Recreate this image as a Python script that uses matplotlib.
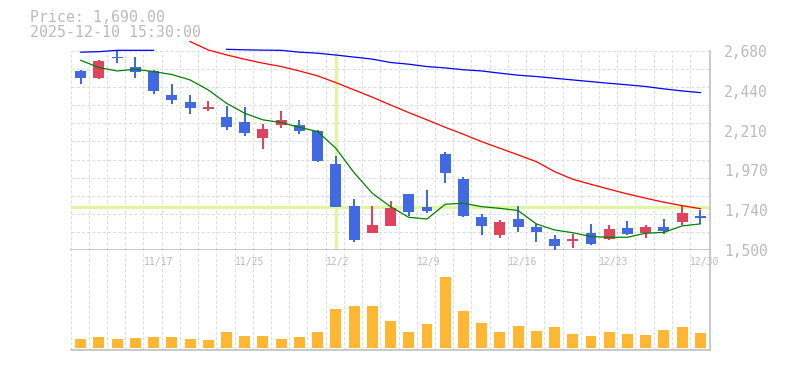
import numpy as np
import matplotlib
matplotlib.use('Agg')
import matplotlib.pyplot as plt

# 日足データ (チャートから読み取り)
dates = ['11/11', '11/12', '11/13', '11/14', '11/17', '11/18', '11/19', '11/20', '11/21',
         '11/25', '11/26', '11/27', '11/28', '12/1', '12/2', '12/3', '12/4', '12/5', '12/8',
         '12/9', '12/10', '12/11', '12/12', '12/15', '12/16', '12/17', '12/18', '12/19',
         '12/22', '12/23', '12/24', '12/25', '12/26', '12/29', '12/30']
opens = [2560, 2521, 2643, 2584, 2560, 2418, 2377, 2336, 2288, 2259, 2166, 2243, 2241, 2206,
         2010, 1762, 1601, 1646, 1833, 1756, 2070, 1922, 1697, 1593, 1685, 1638, 1565, 1557,
         1602, 1569, 1632, 1604, 1638, 1669, 1703]
highs = [2566, 2625, 2680, 2645, 2566, 2481, 2418, 2383, 2353, 2347, 2249, 2324, 2271, 2211,
         2058, 1803, 1762, 1792, 1833, 1857, 2083, 1934, 1715, 1679, 1762, 1656, 1589, 1597,
         1656, 1650, 1673, 1650, 1685, 1768, 1738]
lows = [2485, 2515, 2609, 2521, 2426, 2365, 2308, 2324, 2213, 2178, 2099, 2223, 2190, 2024,
        1758, 1551, 1601, 1646, 1705, 1721, 1900, 1699, 1593, 1575, 1610, 1551, 1500, 1516,
        1534, 1561, 1591, 1575, 1599, 1650, 1658]
closes = [2521, 2619, 2635, 2554, 2442, 2389, 2343, 2347, 2231, 2196, 2217, 2271, 2207, 2028,
          1758, 1561, 1650, 1750, 1729, 1733, 1959, 1703, 1646, 1668, 1640, 1610, 1528, 1565,
          1539, 1626, 1599, 1638, 1614, 1721, 1690]
volumes = [180, 220, 180, 200, 220, 220, 180, 160, 320, 240, 240, 180, 220, 320, 780, 840,
           840, 540, 320, 480, 1420, 740, 500, 320, 440, 340, 420, 280, 240, 320, 280, 260,
           360, 420, 300]

# 移動平均 (5日 / 25日 / 75日)
ma5 = [2623, 2580, 2560, 2570, 2556, 2539, 2507, 2448, 2369, 2310, 2271, 2255, 2227, 2202,
       2103, 1959, 1837, 1758, 1695, 1685, 1772, 1778, 1758, 1748, 1735, 1656, 1620, 1604,
       1581, 1577, 1577, 1601, 1606, 1644, 1656]
ma25 = [np.nan] * 6 + [2734, 2684, 2655, 2629, 2606, 2586, 2560, 2531, 2491, 2448, 2405, 2359,
                       2314, 2271, 2227, 2186, 2142, 2103, 2064, 2024, 1965, 1920, 1890, 1861,
                       1833, 1808, 1784, 1764, 1746]
ma75 = [2671, 2674, 2682, 2682, 2682, np.nan, np.nan, np.nan, 2688, 2685, 2683, 2682, 2671,
        2665, 2654, 2642, 2630, 2610, 2600, 2586, 2578, 2567, 2560, 2547, 2535, 2527, 2517,
        2507, 2497, 2487, 2478, 2468, 2454, 2442, 2432]

tick_values = np.linspace(1500, 2680, 6)
tick_labels = ['1,500', '1,740', '1,970', '2,210', '2,440', '2,680']
label_idx = [4, 9, 14, 19, 24, 29, 34]
cross_idx = 14

grey = '#bbbbbb'
grid_c = '#dddddd'
up_c = '#e0435e'
down_c = '#4169e1'
cross_c = '#e0f5a0'
mono = 'DejaVu Sans Mono'

x = np.arange(len(dates))
o = np.array(opens)
c = np.array(closes)
colors = [up_c if cc >= oo else down_c for oo, cc in zip(o, c)]

fig = plt.figure(figsize=(7.85, 3.7), dpi=100)
ax = fig.add_axes([70.5 / 785, 0.3235, 639.5 / 785, 0.5684])
ax2 = fig.add_axes([70.5 / 785, 20 / 370, 639.5 / 785, 99.7 / 370])

xlo, xhi = -0.56, 34.53
ax.set_xlim(xlo, xhi)
ax.set_ylim(1500, 2743)
ax2.set_xlim(xlo, xhi)
ax2.set_ylim(-46, 1948)

# グリッド
gx = x + xlo
ax.vlines(gx, 1500, 2680, color=grid_c, lw=0.75, linestyles=(0, (3, 2)), zorder=0)
ax.hlines(np.linspace(1500, 2680, 12), xlo, xhi, color=grid_c, lw=0.75,
          linestyles=(0, (3, 2)), zorder=0)
for g in gx:
    ax2.axvline(g, color=grid_c, lw=0.75, ls=(0, (3, 2)), zorder=0)

# クロスヘア
ax.vlines(x[cross_idx], 1500, 2680, color=cross_c, lw=2.3, zorder=1)
ax.axhline(closes[cross_idx], color=cross_c, lw=2.3, zorder=1)

# ローソク足
ax.vlines(x, lows, highs, color=colors, lw=1.4, zorder=3, antialiased=False)
ax.bar(x, np.abs(c - o), bottom=np.minimum(o, c), width=0.6, color=colors, lw=0, zorder=3)

ax.plot(x, ma5, color='green', lw=0.9, zorder=4)
ax.plot(x, ma25, color='red', lw=0.9, zorder=4)
ax.plot(x, ma75, color='blue', lw=0.9, zorder=4)

# 出来高
ax2.bar(x, volumes, width=0.6, color='#ffb733', lw=0, zorder=2)

for a in (ax, ax2):
    a.spines['top'].set_visible(False)
    a.spines['left'].set_visible(False)
    a.spines['right'].set_color(grey)
    a.spines['bottom'].set_color(grey)
    a.spines['right'].set_linewidth(1.1)
    a.spines['bottom'].set_linewidth(1.1)
    a.set_xticks([])
ax.spines['right'].set_bounds(1500, 2680)
ax2.set_yticks([])

ax.yaxis.tick_right()
ax.set_yticks(tick_values)
ax.set_yticklabels(tick_labels, fontfamily=mono, fontsize=10.5, color=grey)
ax.tick_params(axis='y', length=0, pad=10)
for t in ax.get_yticklabels():
    t.set_verticalalignment('center_baseline')

for i in label_idx:
    ax2.text(x[i] + xlo, 0.878, dates[i], transform=ax2.get_xaxis_transform(),
             ha='left', va='center', fontfamily=mono, fontsize=7, color=grey, clip_on=False)

fig.text(30 / 785, 1 - 17.5 / 370, 'Price: 1,690.00', fontfamily=mono, fontsize=10.7,
         color=grey, ha='left', va='center')
fig.text(30 / 785, 1 - 32.5 / 370, '2025-12-10 15:30:00', fontfamily=mono, fontsize=10.7,
         color=grey, ha='left', va='center')

fig.savefig('out.png', dpi=100)
